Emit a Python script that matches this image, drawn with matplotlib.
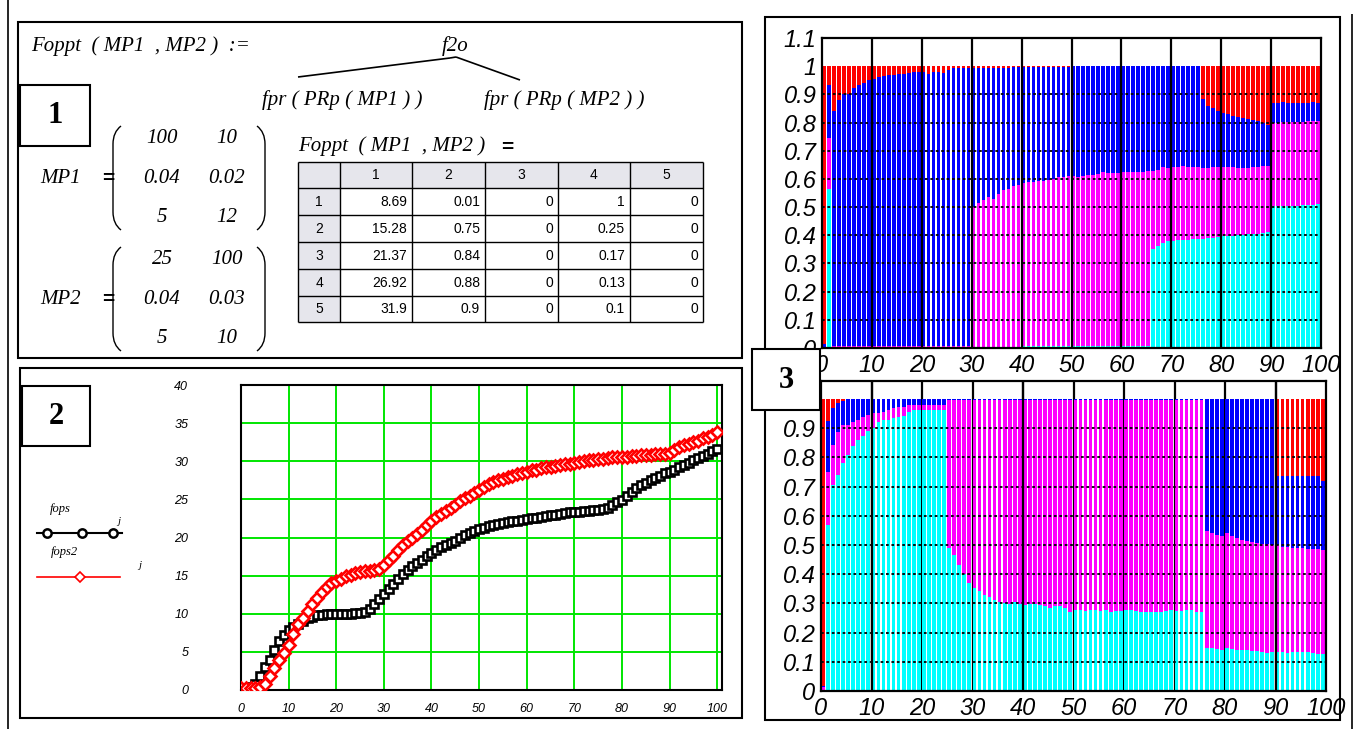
import matplotlib
matplotlib.use('Agg')
import matplotlib.pyplot as plt
import numpy as np
from matplotlib.patches import Rectangle, PathPatch
from matplotlib.path import Path

W, H = 1362, 729

# ---------------- data: panel 2 (line/scatter) ----------------
x_line = list(range(101))
fops = [0.3, 0.3, 0.4, 0.8, 1.8, 3.0, 4.0, 5.2, 6.4, 7.2,
        7.9, 8.3, 8.7, 9.1, 9.4, 9.6, 9.8, 9.9, 10.0, 10.0,
        10.0, 10.0, 10.0, 10.0, 10.1, 10.1, 10.2, 10.6, 11.3, 12.0,
        12.6, 13.2, 13.9, 14.6, 15.2, 15.7, 16.2, 16.7, 17.1, 17.6,
        18.0, 18.3, 18.7, 19.0, 19.3, 19.6, 19.9, 20.3, 20.6, 20.9,
        21.1, 21.3, 21.5, 21.6, 21.8, 21.9, 22.0, 22.1, 22.2, 22.3,
        22.4, 22.5, 22.6, 22.7, 22.8, 22.9, 23.0, 23.1, 23.2, 23.3,
        23.4, 23.4, 23.5, 23.5, 23.6, 23.6, 23.7, 23.9, 24.2, 24.6,
        24.9, 25.5, 26.0, 26.5, 26.9, 27.2, 27.5, 27.8, 28.1, 28.4,
        28.6, 28.9, 29.2, 29.5, 29.8, 30.1, 30.4, 30.7, 31.0, 31.3,
        31.6]
fops2 = [0.3, 0.3, 0.3, 0.3, 0.4, 0.8, 1.8, 2.9, 3.9, 4.9,
         5.9, 7.4, 8.7, 9.5, 10.4, 11.3, 12.1, 12.9, 13.5, 14.0,
         14.3, 14.6, 14.9, 15.1, 15.3, 15.5, 15.6, 15.6, 15.7, 15.9,
         16.4, 17.0, 17.6, 18.3, 19.0, 19.5, 20.0, 20.5, 21.0, 21.7,
         22.2, 22.7, 23.1, 23.5, 23.9, 24.3, 24.8, 25.2, 25.5, 25.9,
         26.2, 26.6, 27.0, 27.3, 27.5, 27.7, 27.9, 28.1, 28.3, 28.5,
         28.6, 28.8, 28.9, 29.1, 29.2, 29.3, 29.4, 29.5, 29.6, 29.7,
         29.8, 29.9, 30.0, 30.1, 30.2, 30.3, 30.3, 30.4, 30.5, 30.5,
         30.6, 30.6, 30.7, 30.7, 30.8, 30.8, 30.8, 30.9, 30.9, 31.0,
         31.1, 31.5, 31.9, 32.1, 32.3, 32.5, 32.7, 33.0, 33.2, 33.5,
         33.8]
line_xticks = [0, 10, 20, 30, 40, 50, 60, 70, 80, 90, 100]
line_yticks = [0, 5, 10, 15, 20, 25, 30, 35, 40]

# ---------------- data: panel 3 (stacked bars, cumulative tops) ----------------
bar_x = list(range(100))
bar_total = 1.0
top_cyan = ([0.0, 0.565] + [0.0] * 38 + [0.008] * 26 +
            [0.35, 0.363, 0.374, 0.378, 0.38, 0.383, 0.384, 0.385, 0.386, 0.386,
             0.388, 0.39, 0.392, 0.395, 0.396, 0.397, 0.398, 0.40, 0.402, 0.404,
             0.404, 0.405, 0.408, 0.41,
             0.503, 0.503, 0.504, 0.504, 0.505, 0.505, 0.506, 0.506, 0.508, 0.51])
top_magenta = ([0.0, 0.745] + [0.008] * 28 +
               [0.50, 0.514, 0.524, 0.535, 0.53, 0.547, 0.559, 0.565, 0.576, 0.58,
                0.585, 0.588, 0.59, 0.592, 0.594, 0.596, 0.60, 0.606, 0.608, 0.61,
                0.61, 0.608, 0.612, 0.614, 0.615, 0.616, 0.626, 0.62, 0.62, 0.622,
                0.624, 0.626, 0.625, 0.626, 0.626, 0.627, 0.628, 0.632, 0.643, 0.64,
                0.641, 0.644, 0.646, 0.644, 0.643, 0.643, 0.637, 0.64, 0.643, 0.642,
                0.641, 0.642, 0.643, 0.64, 0.637, 0.64, 0.643, 0.644, 0.646, 0.646,
                0.80, 0.80, 0.801, 0.802, 0.802, 0.803, 0.803, 0.804, 0.805, 0.806])
top_blue = ([0.015, 0.933, 0.84, 0.879, 0.90, 0.90, 0.924, 0.935, 0.941, 0.95,
             0.955, 0.961, 0.965, 0.968, 0.97, 0.973, 0.974, 0.976, 0.978, 0.978,
             0.978, 0.973, 0.978, 0.978, 0.976, 0.985, 0.992, 0.994, 0.995, 0.995,
             0.995, 0.995, 0.995, 0.995, 0.995, 0.995, 0.995, 0.995, 0.996, 0.996,
             0.996, 0.996, 0.996, 0.996, 0.996, 0.996, 0.996, 0.996, 0.996, 0.996] +
            [1.0] * 26 +
            [0.883, 0.86, 0.851, 0.842, 0.835, 0.83, 0.825, 0.82, 0.816, 0.813,
             0.81, 0.807, 0.80, 0.79,
             0.871, 0.87, 0.872, 0.87, 0.871, 0.87, 0.871, 0.87, 0.872, 0.87])

bot_cyan = [0.0, 0.57, 0.706, 0.74, 0.78, 0.81, 0.84, 0.86, 0.875, 0.89,
            0.90, 0.922, 0.928, 0.928, 0.935, 0.94, 0.943, 0.955, 0.962, 0.962,
            0.962, 0.962, 0.962, 0.962, 0.962, 0.49, 0.467, 0.433, 0.40, 0.37,
            0.353, 0.342, 0.33, 0.322, 0.313, 0.305, 0.30, 0.298, 0.304, 0.298,
            0.296, 0.298, 0.297, 0.296, 0.29, 0.285, 0.29, 0.29, 0.285, 0.271,
            0.279, 0.279, 0.273, 0.279, 0.276, 0.273, 0.276, 0.271, 0.273, 0.273,
            0.276, 0.276, 0.273, 0.271, 0.271, 0.271, 0.271, 0.271, 0.273, 0.276,
            0.273, 0.273, 0.276, 0.276, 0.271, 0.27, 0.148, 0.146, 0.144, 0.142,
            0.148, 0.145, 0.142, 0.14, 0.139, 0.138, 0.137, 0.134, 0.131, 0.132,
            0.134, 0.133, 0.131, 0.132, 0.134, 0.134, 0.133, 0.131, 0.128, 0.128]
bot_magenta = ([0.012, 0.75, 0.843, 0.888, 0.911, 0.912, 0.922, 0.928, 0.94, 0.945,
                0.954, 0.954, 0.955, 0.962, 0.968, 0.972, 0.974] + [0.98] * 8 +
               [0.997] * 51 +
               [0.547, 0.541, 0.535, 0.532, 0.541, 0.53, 0.524, 0.518, 0.513, 0.51,
                0.507, 0.504, 0.503, 0.501, 0.50, 0.494, 0.492, 0.491, 0.49, 0.489,
                0.488, 0.487, 0.485, 0.484])
bot_blue = ([0.017, 0.926, 0.968, 0.985, 0.995] + [1.0] * 85 +
            [0.735] * 9 + [0.718])

bar_xticks = [0, 10, 20, 30, 40, 50, 60, 70, 80, 90, 100]
top_yticks = [0, 0.1, 0.2, 0.3, 0.4, 0.5, 0.6, 0.7, 0.8, 0.9, 1.0, 1.1]
bot_yticks = [0, 0.1, 0.2, 0.3, 0.4, 0.5, 0.6, 0.7, 0.8, 0.9, 1.0]

# ---------------- data: panel 1 (text / table) ----------------
MP1 = [["100", "10"], ["0.04", "0.02"], ["5", "12"]]
MP2 = [["25", "100"], ["0.04", "0.03"], ["5", "10"]]
table_cols = ["1", "2", "3", "4", "5"]
table_rows = ["1", "2", "3", "4", "5"]
table_vals = [["8.69", "0.01", "0", "1", "0"],
              ["15.28", "0.75", "0", "0.25", "0"],
              ["21.37", "0.84", "0", "0.17", "0"],
              ["26.92", "0.88", "0", "0.13", "0"],
              ["31.9", "0.9", "0", "0.1", "0"]]

# ---------------- figure ----------------
fig = plt.figure(figsize=(W / 100, H / 100), dpi=100)
fig.patch.set_facecolor('white')


def ax_px(l, t, r, b):
    return fig.add_axes([l / W, 1 - b / H, (r - l) / W, (b - t) / H])


SERIF = ['Liberation Serif', 'DejaVu Serif']
SANS = ['Liberation Sans', 'DejaVu Sans']

# ---- panel 2 chart ----
ax2 = ax_px(241, 385, 722, 690)
ax2.set_xlim(0, 101)
ax2.set_ylim(0, 40)
ax2.set_xticks(line_xticks)
ax2.set_yticks(line_yticks)
ax2.grid(True, color='#00e600', lw=1.4)
ax2.set_axisbelow(True)
ax2.plot(x_line, fops, color='black', lw=2, marker='s', ms=6, mfc='white',
         mec='black', mew=1.9, zorder=3)
ax2.plot(x_line, fops2, color='red', lw=2, marker='D', ms=6, mfc='white',
         mec='red', mew=1.9, zorder=4)
for s in ax2.spines.values():
    s.set_linewidth(1.5)
ax2.tick_params(length=0, pad=9, labelsize=9)
ax2.tick_params(axis='y', pad=38)
for lab in ax2.get_xticklabels() + ax2.get_yticklabels():
    lab.set_fontstyle('italic')
    lab.set_family(SANS)

# ---- panel 3 bar charts ----
def stacked(ax, cy, mg, bl):
    cy = np.array(cy); mg = np.array(mg); bl = np.array(bl)
    kw = dict(width=0.74, align='edge', linewidth=0, zorder=2)
    ax.bar(bar_x, cy, bottom=0, color='#00ffff', **kw)
    ax.bar(bar_x, mg - cy, bottom=cy, color='#ff00ff', **kw)
    ax.bar(bar_x, bl - mg, bottom=mg, color='#0000ff', **kw)
    ax.bar(bar_x, bar_total - bl, bottom=bl, color='#ff0000', **kw)


def fmt(v):
    s = ('%.1f' % v)
    return s[:-2] if s.endswith('.0') else s


ax3 = ax_px(822, 38, 1321, 348)
stacked(ax3, top_cyan, top_magenta, top_blue)
ax3.set_xlim(0, 100)
ax3.set_ylim(0, 1.1)
for xv in bar_xticks[1:-1]:
    ax3.axvline(xv, color='black', lw=1.6, zorder=4)
for yv in top_yticks[1:10]:
    ax3.axhline(yv, color='black', lw=1.3, ls=(0, (1.5, 1.5)), zorder=4)

ax4 = ax_px(821, 381, 1326, 691)
stacked(ax4, bot_cyan, bot_magenta, bot_blue)
ax4.set_xlim(0, 100)
ax4.set_ylim(0, 1.062)
for xv in bar_xticks[1:-1]:
    ax4.axvline(xv, color='black', lw=1.6, zorder=1)
for xv in [10, 40, 90]:
    ax4.axvline(xv, color='black', lw=1.6, zorder=4)
for yv in bot_yticks[1:10]:
    ax4.axhline(yv, color='black', lw=1.3, ls=(0, (1.5, 1.5)), zorder=4)

for ax, yt in ((ax3, top_yticks), (ax4, bot_yticks)):
    ax.set_xticks(bar_xticks)
    ax.set_xticklabels([str(v) for v in bar_xticks])
    ax.set_yticks(yt)
    ax.set_yticklabels([fmt(v) for v in yt])
    ax.tick_params(length=0, labelsize=17, pad=4)
    for lab in ax.get_xticklabels() + ax.get_yticklabels():
        lab.set_fontstyle('italic')
        lab.set_family(SANS)
    for s in ax.spines.values():
        s.set_linewidth(1.6)

# ---- overlay for text, boxes, table ----
ov = fig.add_axes([0, 0, 1, 1])
ov.set_xlim(0, W)
ov.set_ylim(H, 0)
ov.axis('off')
ov.patch.set_alpha(0)
ov.set_zorder(10)


def rect(x0, y0, x1, y1, lw=1.2, fc='none', z=1):
    ov.add_patch(Rectangle((x0, y0), x1 - x0, y1 - y0, fill=(fc != 'none'),
                           facecolor=fc, edgecolor='black', lw=lw, zorder=z))


def line(xs, ys, lw=1.0, c='black', z=2):
    ov.plot(xs, ys, color=c, lw=lw, solid_capstyle='butt', zorder=z)


def mtext(x, y, s, size=15, ha='left', weight='normal', style='italic', fam=None):
    ov.text(x, y, s, fontsize=size, ha=ha, va='center', fontstyle=style,
            fontweight=weight, family=fam or SERIF, zorder=5)


# page edge lines
line([8, 8], [0, H], lw=1.2)
line([1352, 1352], [14, H], lw=1.2)

# panel frames
rect(18, 22, 742, 358, lw=1.5)
rect(20, 368, 742, 718, lw=1.5)
rect(765, 17, 1340, 720, lw=1.5)

# panel 1 text
mtext(31, 46, 'Foppt  ( MP1  , MP2 )  :=')
mtext(455, 46, 'f2o', ha='center')
line([298, 450], [77, 58], lw=1.2)
line([450, 456], [58, 57], lw=1.2)
line([456, 520], [57, 80], lw=1.2)
mtext(262, 100, 'fpr ( PRp ( MP1 ) )')
mtext(484, 100, 'fpr ( PRp ( MP2 ) )')

rect(20, 85, 90, 146, lw=1.5)
mtext(55, 115, '1', size=22, ha='center', weight='bold', style='normal')
rect(22, 386, 90, 446, lw=1.5)
mtext(56, 416, '2', size=22, ha='center', weight='bold', style='normal')


def paren(x, y0, y1, side):
    d = 8 if side == 'l' else -8
    verts = [(x + d, y0), (x, y0 + 6), (x, y0 + 18), (x, y1 - 18),
             (x, y1 - 6), (x + d, y1)]
    codes = [Path.MOVETO, Path.CURVE3, Path.CURVE3, Path.LINETO,
             Path.CURVE3, Path.CURVE3]
    ov.add_patch(PathPatch(Path(verts, codes), fill=False, lw=1.0,
                           edgecolor='black', zorder=3))


def matrix(name, vals, yc):
    mtext(40, yc, name)
    mtext(108, yc, '=', weight='bold', style='normal', fam=SANS, ha='center')
    rows_y = [yc - 40, yc, yc + 39]
    paren(113, yc - 52, yc + 52, 'l')
    paren(265, yc - 52, yc + 52, 'r')
    for ry, row in zip(rows_y, vals):
        mtext(162, ry, row[0], ha='center')
        mtext(227, ry, row[1], ha='center')


matrix('MP1', MP1, 178)
matrix('MP2', MP2, 299)

mtext(298, 146, 'Foppt  ( MP1  , MP2 )')
mtext(507, 147, '=', weight='bold', style='normal', fam=SANS, ha='center')

# table
col_edges = [298, 340, 412, 485, 558, 630, 703]
row_edges = [162, 188, 215, 242, 269, 296, 322]
ov.add_patch(Rectangle((298, 162), 703 - 298, 26, facecolor='#e6e6ec',
                       edgecolor='none', zorder=1))
ov.add_patch(Rectangle((298, 162), 42, 322 - 162, facecolor='#e6e6ec',
                       edgecolor='none', zorder=1))
for xe in col_edges:
    line([xe, xe], [162, 322], lw=1.0)
for ye in row_edges:
    line([298, 703], [ye, ye], lw=1.0)
for i, c in enumerate(table_cols):
    ov.text((col_edges[i + 1] + col_edges[i + 2]) / 2, 175, c, ha='center',
            va='center', fontsize=10, family=SANS, zorder=5)
for j, r in enumerate(table_rows):
    yc = (row_edges[j + 1] + row_edges[j + 2]) / 2
    ov.text(319, yc, r, ha='center', va='center', fontsize=10, family=SANS,
            zorder=5)
    for i, v in enumerate(table_vals[j]):
        ov.text(col_edges[i + 2] - 5, yc, v, ha='right', va='center',
                fontsize=10, family=SANS, zorder=5)

# panel 2 legend
mtext(50, 509, 'fops', size=9)
mtext(119, 522, 'j', size=8, ha='center')
ov.plot([37, 122], [533, 533], color='black', lw=1.5, zorder=3)
ov.plot([47, 82, 113], [533, 533, 533], ls='none', marker='o', ms=6,
        mfc='white', mec='black', mew=1.8, zorder=4)
mtext(51, 552, 'fops2', size=9)
mtext(140, 565, 'j', size=8, ha='center')
ov.plot([37, 120], [577, 577], color='red', lw=1.2, zorder=3)
ov.plot([80], [577], ls='none', marker='D', ms=5, mfc='white', mec='red',
        mew=1.2, zorder=4)

# "3" label box over the right panel
rect(752, 349, 820, 410, lw=1.5, fc='white', z=6)
ov.text(786, 380, '3', ha='center', va='center', fontsize=22,
        fontweight='bold', family=SERIF, zorder=7)

fig.savefig('out.png', dpi=100)
